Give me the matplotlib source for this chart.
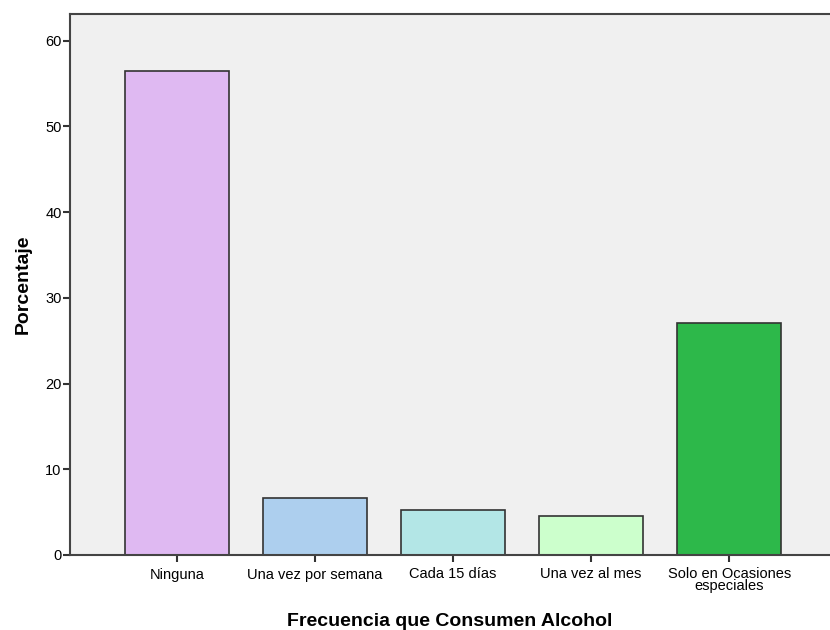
import matplotlib
matplotlib.use("Agg")
import matplotlib.pyplot as plt

categories = ["Ninguna", "Una vez por semana", "Cada 15 días", "Una vez al mes",
              "Solo en Ocasiones\nespeciales"]
percentages = [56.4, 6.7, 5.3, 4.5, 27.1]
colors = ["#DFB9F2", "#ADCFEE", "#B3E6E6", "#CCFFCC", "#2DB84A"]
y_ticks = [0, 10, 20, 30, 40, 50, 60]

plt.rcParams["font.family"] = ["Liberation Sans", "DejaVu Sans"]

fig = plt.figure(figsize=(8.3, 6.3), dpi=100)
ax = fig.add_axes([70 / 830, 75 / 630, 760 / 830, 541 / 630])
ax.set_facecolor("#F0F0F0")

x = range(len(categories))
ax.bar(x, percentages, width=0.755, color=colors, edgecolor="#333333", linewidth=1.2, zorder=2)

ax.set_xlim(-0.775, 4.73)
ax.set_ylim(0, 63.1)
ax.set_yticks(y_ticks)
ax.set_xticks(list(x))
ax.set_xticklabels(categories, fontsize=10.5, linespacing=0.8)
ax.tick_params(axis="y", labelsize=10.5, length=5, width=1.5, color="#333333", pad=1)
ax.tick_params(axis="x", length=5, width=1.5, color="#333333", pad=4)

for side in ("left", "bottom", "top"):
    ax.spines[side].set_color("#444444")
    ax.spines[side].set_linewidth(1.5)
ax.spines["right"].set_visible(False)

ax.set_ylabel("Porcentaje", fontsize=14, fontweight="bold", labelpad=10)
ax.set_xlabel("Frecuencia que Consumen Alcohol", fontsize=14, fontweight="bold", labelpad=14)

fig.savefig("out.png", dpi=100)
